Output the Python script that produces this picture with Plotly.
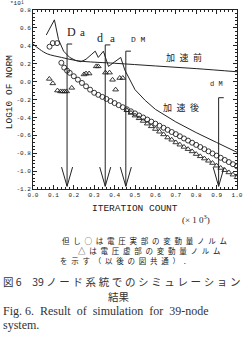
import plotly.graph_objects as go

# ---- data ----
before_x = [0.0, 0.033, 0.07, 0.14, 0.2, 0.25, 0.4, 0.6, 0.8, 1.0]
before_y = [0.42, 0.36, 0.31, 0.27, 0.24, 0.225, 0.205, 0.175, 0.145, 0.11]

after_x = [0.065, 0.105, 0.125, 0.15, 0.18, 0.21, 0.235, 0.26, 0.285, 0.305, 0.32, 0.345,
           0.37, 0.39, 0.405, 0.43, 0.45, 0.475, 0.5, 0.55, 0.6, 0.7, 0.8, 0.9, 1.0]
after_y = [0.52, 0.69, 0.47, 0.34, 0.27, 0.235, 0.222, 0.25, 0.30, 0.34, 0.27, 0.34,
           0.17, 0.20, 0.23, 0.27, 0.13, 0.02, -0.09, -0.21, -0.31, -0.45, -0.57, -0.68, -0.79]

circle_x = [0.081, 0.097, 0.118, 0.139, 0.153, 0.167,
            0.18, 0.20, 0.22, 0.24, 0.26, 0.28, 0.30, 0.32, 0.34, 0.36, 0.38, 0.40,
            0.42, 0.44, 0.46, 0.48, 0.50, 0.52, 0.54, 0.56, 0.58, 0.60, 0.62, 0.64,
            0.66, 0.68, 0.70, 0.72, 0.74, 0.76, 0.78, 0.80, 0.82, 0.84, 0.86, 0.88,
            0.90, 0.92, 0.94, 0.96, 0.98, 1.00]
circle_y = [0.39, 0.43, 0.43, 0.21, 0.156, 0.122,
            0.098, 0.060, 0.022, -0.015, -0.053, -0.090, -0.125, -0.148, -0.171, -0.194, -0.217, -0.240,
            -0.263, -0.286, -0.309, -0.332, -0.355, -0.378, -0.401, -0.424, -0.447, -0.470, -0.493, -0.516,
            -0.539, -0.563, -0.587, -0.611, -0.635, -0.659, -0.683, -0.707, -0.731, -0.755, -0.779, -0.803,
            -0.827, -0.851, -0.875, -0.899, -0.923, -0.947]

tri_x = [0.08, 0.097, 0.12, 0.135, 0.145, 0.155, 0.165, 0.19, 0.25, 0.26, 0.275, 0.31, 0.32,
         0.355, 0.375, 0.39, 0.405, 0.425, 0.44,
         0.46, 0.48, 0.50, 0.52, 0.54, 0.56, 0.58, 0.60, 0.62, 0.64, 0.66, 0.68, 0.70,
         0.72, 0.74, 0.76, 0.78, 0.80, 0.82, 0.84, 0.86, 0.88, 0.90, 0.92, 0.94, 0.96, 0.98, 1.00]
tri_y = [0.03, -0.02, -0.10, -0.11, -0.11, -0.11, -0.11, -0.07, 0.08, 0.09, 0.09, 0.17, 0.17,
         0.10, 0.10, 0.02, -0.09, 0.04, 0.04,
         -0.32, -0.35, -0.38, -0.41, -0.44, -0.47, -0.50, -0.53, -0.56, -0.59, -0.625, -0.65, -0.68,
         -0.705, -0.73, -0.755, -0.78, -0.81, -0.835, -0.86, -0.885, -0.91, -0.94, -0.965, -0.99,
         -1.015, -1.04, -1.07]

arrow_x = [0.167, 0.354, 0.455, 0.91]
arrow_top = [0.42, 0.41, 0.34, -0.18]

x_ticks = [0.0, 0.1, 0.2, 0.3, 0.4, 0.5, 0.6, 0.7, 0.8, 0.9, 1.0]
y_ticks = [0.8, 0.6, 0.4, 0.2, 0.0, -0.2, -0.4, -0.6, -0.8, -1.0, -1.2]

INK = "#222222"
MONO = "Liberation Mono, DejaVu Sans Mono, monospace"
SERIF = "Liberation Serif, DejaVu Serif, serif"
CJK = "Noto Sans CJK JP, sans-serif"

EN = "\u2002"    # en space, used as letter spacing in the caption
QS = "\u2005"    # four-per-em space


def spaced(s, sep):
    return sep.join(list(s))


fig = go.Figure()
fig.add_trace(go.Scatter(x=before_x, y=before_y, mode="lines",
                         line=dict(color=INK, width=1), line_shape="spline", showlegend=False))
fig.add_trace(go.Scatter(x=after_x, y=after_y, mode="lines",
                         line=dict(color=INK, width=1), showlegend=False))
fig.add_trace(go.Scatter(x=circle_x, y=circle_y, mode="markers",
                         marker=dict(symbol="circle-open", size=5, color=INK, line=dict(width=0.9)),
                         showlegend=False))
fig.add_trace(go.Scatter(x=tri_x, y=tri_y, mode="markers",
                         marker=dict(symbol="triangle-up-open", size=5, color=INK, line=dict(width=0.9)),
                         showlegend=False))

shapes = []
tip = -1.17
for ax, top in zip(arrow_x, arrow_top):
    shapes.append(dict(type="path", xref="x", yref="y",
                       path=f"M {ax+0.025},{top} L {ax},{top} L {ax},{tip}",
                       line=dict(color=INK, width=1)))
    shapes.append(dict(type="path", xref="x", yref="y",
                       path=f"M {ax-0.027},{-0.955} L {ax},{tip} L {ax+0.027},{-0.955}",
                       line=dict(color=INK, width=1)))
fig.update_layout(shapes=shapes)

ann = []
def A(text, x, y, size, family, xref="x", yref="y", xanchor="center", angle=0, color=INK):
    ann.append(dict(text=text, x=x, y=y, xref=xref, yref=yref, showarrow=False,
                    xanchor=xanchor, yanchor="middle", textangle=angle, borderpad=0,
                    font=dict(size=size, family=family, color=color)))

A("D", 0.19, 0.55, 12, SERIF)
A("a", 0.245, 0.55, 11, SERIF)
A("d", 0.33, 0.49, 12, SERIF)
A("a", 0.39, 0.49, 11, SERIF)
A("D M", 0.515, 0.475, 8, MONO)
A("d M", 0.9, -0.03, 7, MONO)
A(spaced("加速前", QS + QS), 0.74, 0.27, 9, CJK)
A(spaced("加速後", QS + QS), 0.727, -0.29, 9, CJK)

# paper-positioned text (outside the axes)
A("*10¹", -0.12, 1.035, 6, MONO, xref="paper", yref="paper", xanchor="left")
A("LOG10 OF NORM", -0.118, 0.54, 9.5, MONO, xref="paper", yref="paper", angle=-90)
A("ITERATION COUNT", 0.5, -0.108, 9.5, MONO, xref="paper", yref="paper")
A("(× 1 0<sup>3</sup>)", 0.80, -0.17, 9, SERIF, xref="paper", yref="paper")
A(spaced("但し○は電圧実部の変動量ノルム", EN), 0.138, -0.285, 7.5, CJK,
  xref="paper", yref="paper", xanchor="left")
A(spaced("△は電圧虚部の変動量ノルム", EN), 0.214, -0.346, 7.5, CJK,
  xref="paper", yref="paper", xanchor="left")
A(spaced("を示す（以後の図共通）.", EN), 0.129, -0.402, 7.5, CJK,
  xref="paper", yref="paper", xanchor="left")
A("図 6　39 " + spaced("ノード系統でのシミュレーション", QS), -0.152, -0.517, 10.5, CJK,
  xref="paper", yref="paper", xanchor="left", color="#333333")
A("結果", 0.424, -0.601, 10.5, CJK, xref="paper", yref="paper", color="#333333")
A("Fig. 6.  Result  of  simulation  for  39-node", -0.152, -0.682, 12, SERIF,
  xref="paper", yref="paper", xanchor="left", color="#333333")
A("system.", -0.152, -0.76, 12, SERIF, xref="paper", yref="paper", xanchor="left",
  color="#333333")
fig.update_layout(annotations=ann)

fig.update_layout(
    width=250, height=345,
    margin=dict(l=33, r=7, t=10, b=156),
    paper_bgcolor="white", plot_bgcolor="white",
    xaxis=dict(range=[0, 1.0], tickvals=x_ticks, ticktext=[f"{v:.1f}" for v in x_ticks],
               ticks="inside", ticklen=4, tickcolor=INK, showgrid=False, zeroline=False,
               showline=True, linecolor=INK, linewidth=1, mirror="ticks",
               tickfont=dict(size=6, family=MONO, color=INK),
               minor=dict(dtick=0.02, ticks="inside", ticklen=2, tickcolor=INK)),
    yaxis=dict(range=[-1.2, 0.8], tickvals=y_ticks, ticktext=[f"{v:.1f}" for v in y_ticks],
               ticks="inside", ticklen=4, tickcolor=INK, showgrid=False, zeroline=False,
               showline=True, linecolor=INK, linewidth=1, mirror="ticks",
               tickfont=dict(size=6, family=MONO, color=INK),
               minor=dict(dtick=0.04, ticks="inside", ticklen=2, tickcolor=INK)),
)

fig.write_html("out.html")
